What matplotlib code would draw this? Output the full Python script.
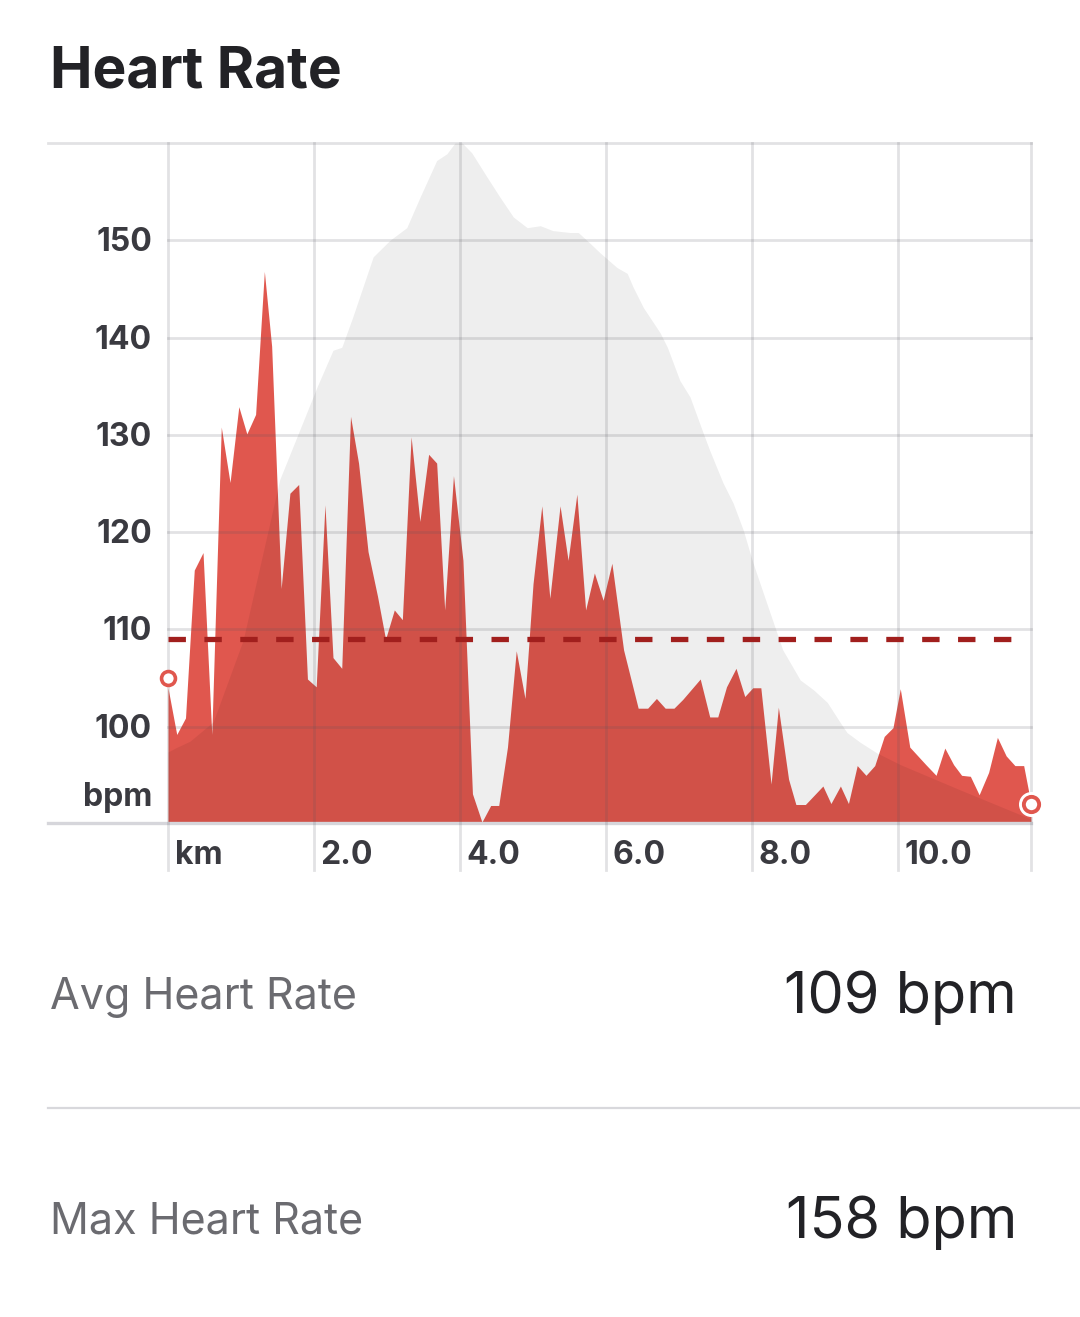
import matplotlib
matplotlib.use("Agg")
import matplotlib.pyplot as plt
from matplotlib.lines import Line2D

plt.rcParams['font.family'] = ['Inter', 'DejaVu Sans']

# heart rate trace (km, bpm)
hr_km = [0.00, 0.12, 0.24, 0.36, 0.48, 0.60, 0.73, 0.85, 0.97, 1.08, 1.20, 1.32, 1.42, 1.55,
         1.67, 1.79, 1.91, 2.03, 2.15, 2.26, 2.38, 2.50, 2.61, 2.74, 2.87, 2.98, 3.10, 3.21,
         3.33, 3.45, 3.57, 3.68, 3.79, 3.91, 4.04, 4.17, 4.30, 4.42, 4.53, 4.65, 4.77, 4.89,
         5.00, 5.12, 5.23, 5.37, 5.48, 5.60, 5.72, 5.84, 5.96, 6.08, 6.24, 6.44, 6.57, 6.69,
         6.81, 6.93, 7.05, 7.29, 7.42, 7.53, 7.65, 7.78, 7.90, 8.01, 8.12, 8.26, 8.36, 8.50,
         8.60, 8.73, 8.97, 9.08, 9.21, 9.32, 9.44, 9.56, 9.68, 9.81, 9.93, 10.03, 10.16, 10.38,
         10.52, 10.64, 10.76, 10.87, 10.99, 11.11, 11.24, 11.36, 11.48, 11.60, 11.72, 11.82]
hr_bpm = [104.0, 99.2, 100.9, 116.1, 117.9, 99.2, 130.8, 125.1, 132.9, 130.1, 132.1, 146.8, 139.1, 114.2,
          124.0, 124.9, 104.9, 104.1, 122.8, 107.1, 106.0, 131.9, 127.1, 118.0, 113.4, 109.0, 112.0, 111.0,
          129.8, 121.1, 128.0, 127.1, 112.0, 125.8, 117.1, 93.1, 90.2, 91.9, 91.9, 97.9, 107.8, 102.9,
          114.7, 122.7, 113.2, 122.7, 117.1, 123.9, 112.0, 115.8, 113.0, 116.8, 107.9, 101.9, 101.9, 102.9,
          101.9, 101.9, 102.8, 104.9, 101.0, 101.0, 104.1, 106.0, 103.1, 104.0, 104.0, 94.1, 102.0, 94.6,
          92.0, 92.0, 93.9, 92.1, 93.9, 92.1, 96.0, 95.0, 96.0, 99.0, 99.9, 103.9, 97.9, 96.1,
          95.0, 97.8, 96.1, 95.0, 94.9, 93.0, 95.3, 98.9, 97.0, 96.0, 96.0, 92.1]

# elevation profile behind it, in the same axis units
elev_km = [0.00, 0.10, 0.30, 0.62, 1.03, 1.53, 2.04, 2.26, 2.38, 2.53, 2.81, 3.04, 3.27, 3.45,
           3.68, 3.82, 3.93, 4.03, 4.16, 4.37, 4.55, 4.73, 4.92, 5.10, 5.27, 5.51, 5.62, 5.78,
           5.92, 6.15, 6.29, 6.37, 6.51, 6.74, 6.84, 7.01, 7.15, 7.33, 7.42, 7.60, 7.74, 7.88,
           8.01, 8.21, 8.42, 8.66, 8.84, 9.03, 9.21, 9.30, 9.48, 9.71, 10.03, 10.85, 11.82]
elev = [97.4, 97.8, 98.5, 100.5, 108.9, 125.4, 134.9, 138.7, 139.0, 142.1, 148.3, 150.0, 151.3, 154.4,
        158.2, 158.9, 160.0, 160.0, 159.0, 156.5, 154.4, 152.4, 151.3, 151.5, 151.0, 150.8, 150.8, 149.7,
        148.7, 147.2, 146.6, 145.2, 143.1, 140.5, 139.0, 135.6, 133.9, 130.2, 128.4, 125.1, 123.0, 120.2,
        116.9, 112.5, 107.9, 104.8, 103.8, 102.5, 100.4, 99.4, 98.4, 97.3, 96.1, 93.5, 90.5]

avg_hr = 109
max_hr = 158
y_ticks = [100, 110, 120, 130, 140, 150]
x_ticks = [0, 2, 4, 6, 8, 10]
x_labels = ["km", "2.0", "4.0", "6.0", "8.0", "10.0"]

ymin, ymax = 90.1, 160
xmin, xmax = -1.644, 11.82
red = "#e0574e"
label_c = "#3a3a40"

fig = plt.figure(figsize=(10.8, 13.17), dpi=100)
ax = fig.add_axes([0.0444, 0.3751, 0.9102, 0.5163])
ax.set_xlim(xmin, xmax)
ax.set_ylim(ymin, ymax)
ax.axis("off")

ax.fill_between(hr_km, hr_bpm, ymin, color=red, lw=0, zorder=1)
ax.fill_between(elev_km, elev, ymin, color="black", alpha=0.068, lw=0, zorder=2)

# grid, drawn over the fills like in the app
for v in y_ticks:
    ax.plot([0, xmax], [v, v], color="#55555f", alpha=0.17, lw=2, zorder=3, clip_on=False)
ax.plot([xmin, xmax], [ymax, ymax], color="#55555f", alpha=0.17, lw=2, zorder=3, clip_on=False)
ax.plot([xmin, xmax], [ymin, ymin], color="#d6d6db", lw=2.4, zorder=3, clip_on=False)
y_low = ymin - 4.8
for k in x_ticks + [xmax]:
    ax.plot([k, k], [y_low, ymax], color="#55555f", alpha=0.17, lw=2, zorder=3, clip_on=False)

ax.plot([0, 11.62], [avg_hr, avg_hr], color="#a11f1d", lw=3.8, ls=(0, (3.3, 3.5)),
        solid_capstyle="butt", dash_capstyle="butt", zorder=4)

# start / end markers
ax.plot(hr_km[0], 105, "o", ms=10, mfc="white", mec=red, mew=2.6, zorder=6, clip_on=False)
ax.plot(hr_km[-1], hr_bpm[-1], "o", ms=17, mfc="white", mec="white", zorder=6, clip_on=False)
ax.plot(hr_km[-1], hr_bpm[-1], "o", ms=11, mfc="white", mec=red, mew=2.8, zorder=7, clip_on=False)

for v in y_ticks:
    ax.text(-0.22, v - 0.25, str(v), ha="right", va="center", fontsize=23, fontweight="bold", color=label_c)
ax.text(-0.22, 92.7, "bpm", ha="right", va="center", fontsize=23, fontweight="bold", color=label_c)
for k, lab in zip(x_ticks, x_labels):
    ax.text(k + 0.09, ymin - 3.3, lab, ha="left", va="center", fontsize=23, fontweight="bold", color=label_c)

fig.text(50 / 1080, 1 - 72 / 1317, "Heart Rate", fontsize=41, fontweight="bold", color="#222226", va="center")

fig.text(50 / 1080, 1 - 998 / 1317, "Avg Heart Rate", fontsize=31, color="#6b6b70", va="center")
fig.text(1017 / 1080, 1 - 998 / 1317, f"{avg_hr} bpm", fontsize=41.5, color="#222226", ha="right", va="center")
fig.add_artist(Line2D([48 / 1080, 1], [1 - 1108 / 1317] * 2, color="#d8d8dc", lw=1.6))
fig.text(50 / 1080, 1 - 1222 / 1317, "Max Heart Rate", fontsize=31, color="#6b6b70", va="center")
fig.text(1017 / 1080, 1 - 1223 / 1317, f"{max_hr} bpm", fontsize=41.5, color="#222226", ha="right", va="center")

fig.savefig("out.png", dpi=100, facecolor="white")
